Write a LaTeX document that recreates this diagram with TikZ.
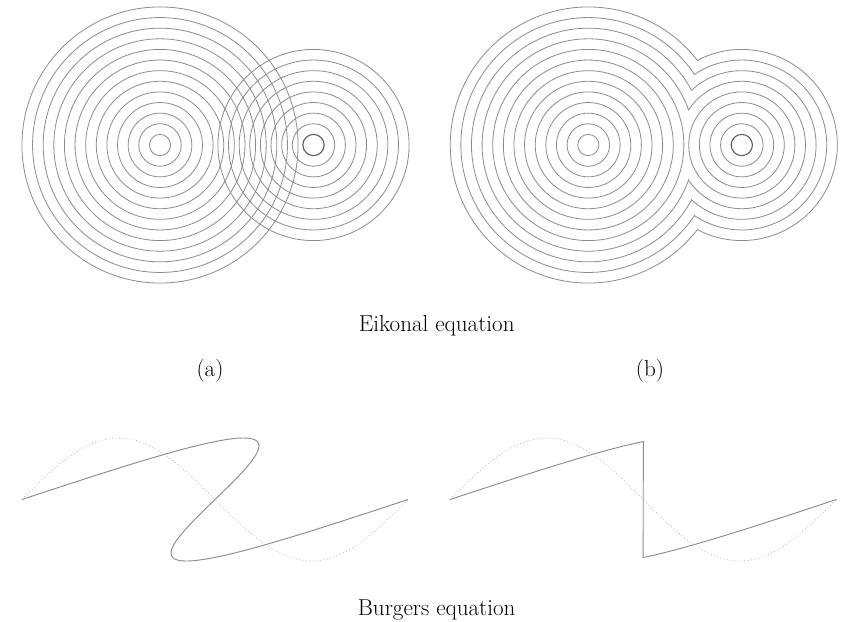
\documentclass[tikz,border=0pt]{standalone}
\begin{document}
\begin{tikzpicture}[x=0.75pt,y=-0.75pt,
  wave/.style={draw=black!45,line width=0.6pt},
  core/.style={draw=black!65,line width=0.8pt},
  sol/.style={draw=black!45,line width=0.7pt},
  init/.style={draw=black!30,line width=0.6pt,dotted},
  lbl/.style={anchor=base,font=\fontsize{17.3}{20}\selectfont}]
\useasboundingbox[fill=white] (0,0) rectangle (841,621);
\def\dunit{10.62}
\def\Dist{14.45}
% centres
\coordinate (A1) at (160,145);
\coordinate (B1) at (313.5,145);
\coordinate (A2) at (588.3,145);
\coordinate (B2) at (741.8,145);
% (a) overlapping fronts
\foreach \k in {1,...,13}{
  \pgfmathsetmacro\Rpx{\k*\dunit}
  \draw[wave] (A1) circle[radius=\Rpx];
}
\foreach \k in {2,...,9}{
  \pgfmathsetmacro\Rpx{\k*\dunit}
  \draw[wave] (B1) circle[radius=\Rpx];
}
\draw[core] (B1) circle[radius=\dunit];
% (b) viscosity solution
\foreach \k in {1,...,9}{
  \pgfmathsetmacro\Rpx{\k*\dunit}
  \draw[wave] (A2) circle[radius=\Rpx];
}
\foreach \k in {2,...,5}{
  \pgfmathsetmacro\Rpx{\k*\dunit}
  \draw[wave] (B2) circle[radius=\Rpx];
}
\draw[core] (B2) circle[radius=\dunit];
\foreach \k in {10,...,13}{
  \pgfmathsetmacro\Rb{\k}
  \pgfmathsetmacro\Rs{\k-4}
  \pgfmathsetmacro\xx{(\Dist*\Dist+\Rb*\Rb-\Rs*\Rs)/(2*\Dist)}
  \pgfmathsetmacro\ta{acos(\xx/\Rb)}
  \pgfmathsetmacro\tb{acos((\Dist-\xx)/\Rs)}
  \pgfmathsetmacro\Rbpx{\Rb*\dunit}
  \pgfmathsetmacro\Rspx{\Rs*\dunit}
  \pgfmathsetmacro\ea{360-\ta}
  \pgfmathsetmacro\sb{180+\tb}
  \pgfmathsetmacro\eb{540-\tb}
  \draw[wave] (A2) ++(\ta:\Rbpx) arc[start angle=\ta,end angle=\ea,radius=\Rbpx]
    arc[start angle=\sb,end angle=\eb,radius=\Rspx] -- cycle;
}
% labels
\node[lbl] (eik) at (436.7,331.7) {Eikonal equation};
\node[lbl] (la) at (210,376.7) {(a)};
\node[lbl] (lb) at (650,376.7) {(b)};
\node[lbl] (bur) at (436.7,615.7) {Burgers equation};
% Burgers, left: multivalued
\draw[init] plot[domain=0:360,samples=120,variable=\t] ({22+\t/360*386},{499.5-61.5*sin(\t)});
\draw[sol] plot[domain=0:360,samples=240,smooth,variable=\t] ({22+\t/360*386+125*sin(\t)},{499.5-61.5*sin(\t)});
% Burgers, right: shock
\draw[init] plot[domain=0:360,samples=120,variable=\t] ({450+\t/360*386.5},{499.5-61.5*sin(\t)});
\draw[sol] plot[domain=0:70.4,samples=60,smooth,variable=\t] ({450+\t/360*386.5+125*sin(\t)},{499.5-61.5*sin(\t)})
  -- plot[domain=289.6:360,samples=60,smooth,variable=\t] ({450+\t/360*386.5+125*sin(\t)},{499.5-61.5*sin(\t)});
\end{tikzpicture}
\end{document}
